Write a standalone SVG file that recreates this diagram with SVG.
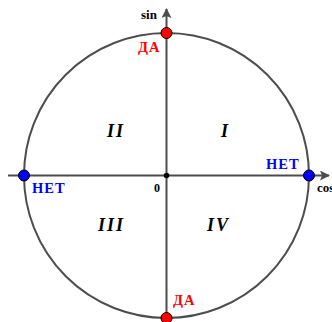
<svg xmlns="http://www.w3.org/2000/svg" width="332" height="322" viewBox="0 0 332 322">
<style>
.ax{stroke:#4d4d4d;stroke-width:2;fill:none}
.lbl{font-family:"Liberation Serif","DejaVu Serif",serif;font-weight:bold}
.red{fill:#ff0000}
.blue{fill:#0000ff}
.q{font-family:"Liberation Serif","DejaVu Serif",serif;font-weight:bold;font-style:italic;font-size:18px;letter-spacing:2px;fill:#000}
</style>
<defs>
<marker id="arr" viewBox="0 0 10 10" refX="9" refY="5" markerWidth="5" markerHeight="5" orient="auto" markerUnits="strokeWidth">
<path d="M0,0 L10,5 L0,10 L2,5 Z" fill="#4d4d4d"/>
</marker>
</defs>
<rect width="332" height="322" fill="#fff"/>
<g id="circle"><circle cx="166.5" cy="175.5" r="142.5" class="ax"/></g>
<g id="connectors">
<line x1="8" y1="175.5" x2="329" y2="175.5" class="ax" marker-end="url(#arr)"/>
<line x1="166.5" y1="322" x2="166.5" y2="9" class="ax" marker-end="url(#arr)"/>
</g>
<g id="origin"><circle cx="166.5" cy="175.5" r="2.8" fill="#000"/><text x="154" y="192" class="lbl" font-size="12">0</text></g>
<g id="axis-labels">
<text x="141" y="19" class="lbl" font-size="13">sin</text>
<text x="317" y="192" class="lbl" font-size="13">cos</text>
</g>
<g id="p-top"><circle cx="166.5" cy="33" r="5.5" fill="#ff0000" stroke="#000" stroke-width="1"/><text x="138" y="52" class="lbl red" font-size="14.5" letter-spacing="1">ДА</text></g>
<g id="p-bottom"><circle cx="166.5" cy="318" r="5.5" fill="#ff0000" stroke="#000" stroke-width="1"/><text x="173" y="305" class="lbl red" font-size="14.5" letter-spacing="1">ДА</text></g>
<g id="p-right"><circle cx="309" cy="175.5" r="5.5" fill="#0000ff" stroke="#000" stroke-width="1"/><text x="266" y="169" class="lbl blue" font-size="14.5" letter-spacing="1">НЕТ</text></g>
<g id="p-left"><circle cx="24" cy="175.5" r="5.5" fill="#0000ff" stroke="#000" stroke-width="1"/><text x="32" y="193" class="lbl blue" font-size="14.5" letter-spacing="1">НЕТ</text></g>
<g id="quadrants">
<text x="221" y="137" class="q">I</text>
<text x="107" y="137" class="q">II</text>
<text x="98" y="231" class="q">III</text>
<text x="207" y="231" class="q">IV</text>
</g>
</svg>
